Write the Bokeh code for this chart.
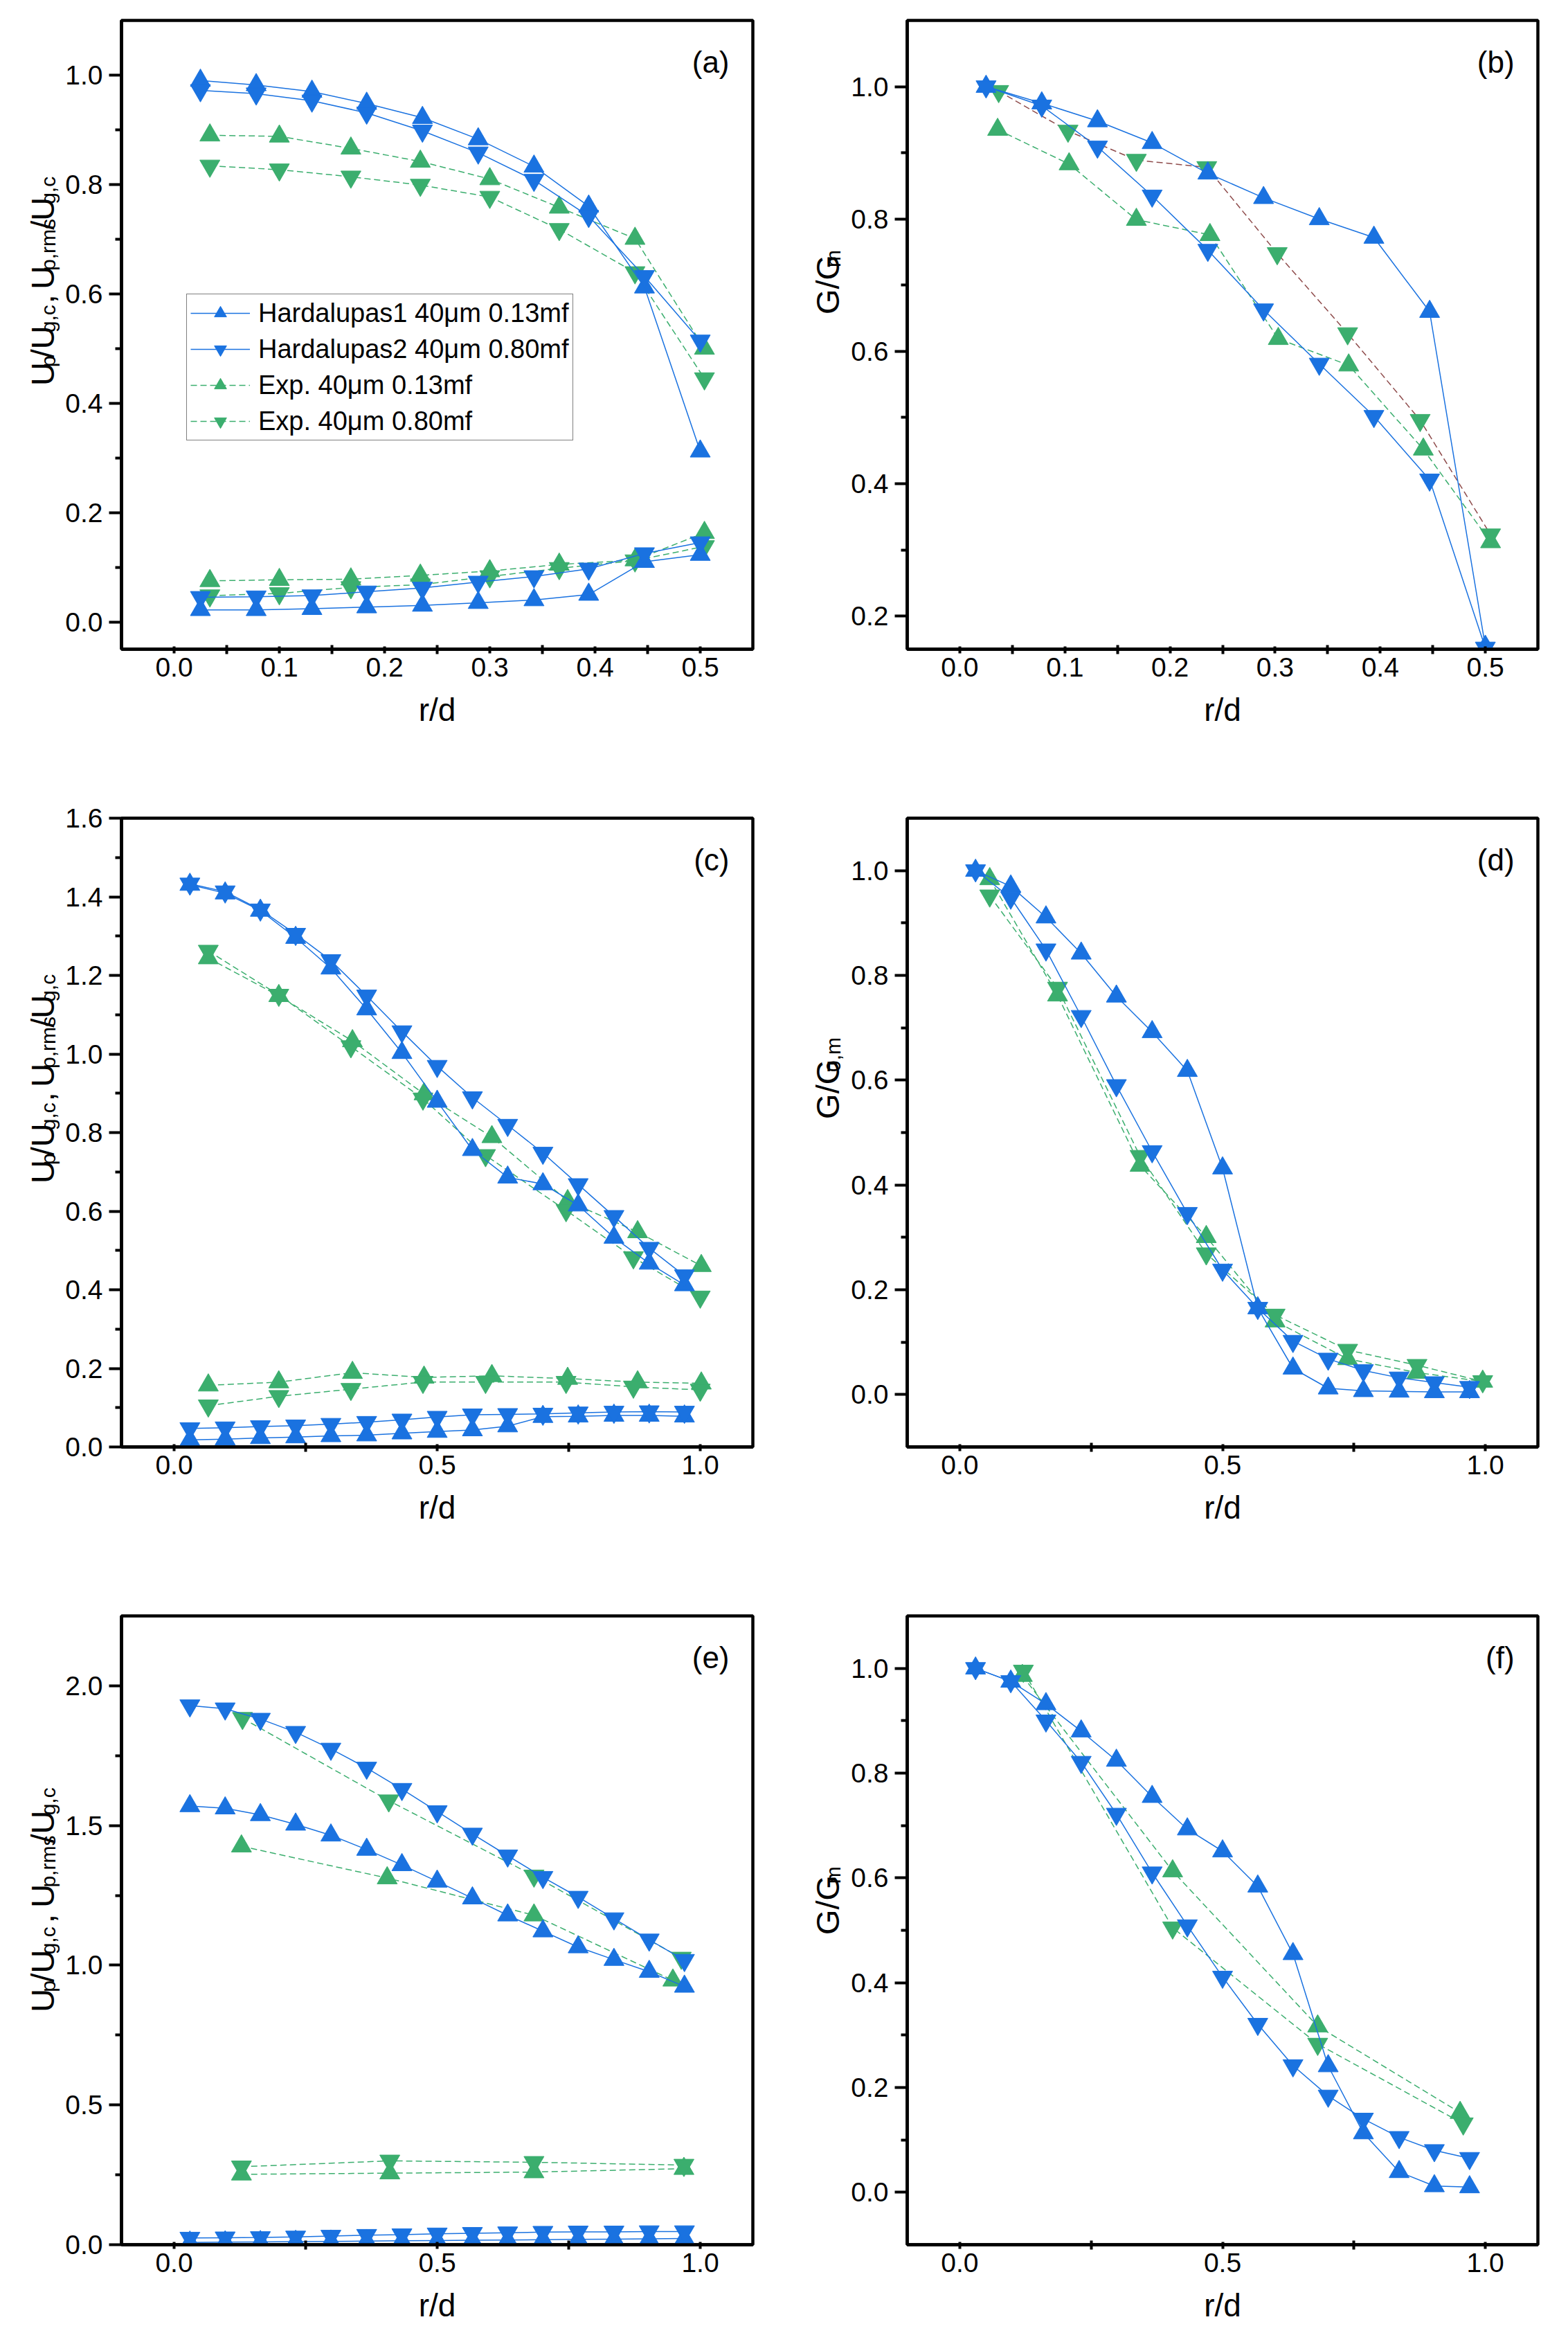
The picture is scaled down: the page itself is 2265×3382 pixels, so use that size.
import math
from bokeh.plotting import figure
from bokeh.models import Label, Legend, LegendItem, FixedTicker, Range1d, PrintfTickFormatter
from bokeh.layouts import column, row
from bokeh.embed import file_html
from bokeh.resources import INLINE

# ---------------- data ----------------
# panel (a): mean and rms particle velocity, r/d up to 0.5
a_x_h = [0.025, 0.078, 0.131, 0.183, 0.236, 0.289, 0.342, 0.394, 0.447, 0.5]
a_h1_mean = [0.990, 0.982, 0.970, 0.948, 0.922, 0.883, 0.833, 0.760, 0.612, 0.312]
a_h2_mean = [0.972, 0.966, 0.953, 0.931, 0.898, 0.858, 0.808, 0.742, 0.632, 0.514]
a_h1_rms = [0.022, 0.022, 0.024, 0.027, 0.030, 0.035, 0.040, 0.050, 0.110, 0.123]
a_h2_rms = [0.045, 0.046, 0.048, 0.055, 0.062, 0.073, 0.083, 0.097, 0.125, 0.145]
a_x_e = [0.034, 0.100, 0.168, 0.234, 0.300, 0.366, 0.438, 0.504]
a_e1_mean = [0.890, 0.888, 0.866, 0.842, 0.810, 0.758, 0.701, 0.500]
a_e2_mean = [0.834, 0.827, 0.814, 0.799, 0.777, 0.718, 0.639, 0.445]
a_e1_rms = [0.075, 0.077, 0.078, 0.085, 0.093, 0.105, 0.113, 0.163]
a_e2_rms = [0.048, 0.052, 0.063, 0.068, 0.083, 0.098, 0.112, 0.138]

# panel (b): mass flux G/Gm
b_x_h = [0.025, 0.078, 0.131, 0.183, 0.236, 0.289, 0.342, 0.394, 0.447, 0.5]
b_h1 = [1.0, 0.975, 0.948, 0.915, 0.869, 0.832, 0.800, 0.772, 0.660, 0.154]
b_h2 = [1.0, 0.971, 0.909, 0.835, 0.753, 0.663, 0.581, 0.502, 0.406, 0.152]
b_x_e1 = [0.036, 0.104, 0.168, 0.238, 0.303, 0.370, 0.441, 0.505]
b_e1 = [0.935, 0.883, 0.799, 0.776, 0.619, 0.579, 0.452, 0.312]
b_x_e2 = [0.037, 0.103, 0.168, 0.235, 0.302, 0.369, 0.438, 0.505]
b_e2 = [0.993, 0.933, 0.889, 0.878, 0.748, 0.627, 0.496, 0.323]

# panel (c)
c_x_h = [0.030, 0.097, 0.164, 0.231, 0.298, 0.366, 0.433, 0.500, 0.567, 0.634, 0.701, 0.768, 0.836, 0.903, 0.970]
c_h1_mean = [1.431, 1.409, 1.365, 1.296, 1.218, 1.114, 1.003, 0.879, 0.756, 0.686, 0.669, 0.615, 0.533, 0.467, 0.412]
c_h2_mean = [1.433, 1.413, 1.367, 1.305, 1.238, 1.148, 1.057, 0.969, 0.889, 0.819, 0.748, 0.668, 0.587, 0.506, 0.436]
c_h1_rms = [0.018, 0.020, 0.023, 0.025, 0.028, 0.030, 0.035, 0.039, 0.043, 0.053, 0.077, 0.078, 0.080, 0.080, 0.078]
c_h2_rms = [0.047, 0.049, 0.052, 0.054, 0.058, 0.063, 0.069, 0.076, 0.082, 0.083, 0.084, 0.087, 0.089, 0.090, 0.089]
c_x_e1 = [0.065, 0.199, 0.339, 0.475, 0.604, 0.748, 0.881, 1.002]
c_e1_mean = [1.244, 1.148, 1.033, 0.898, 0.789, 0.626, 0.547, 0.461]
c_e1_rms = [0.157, 0.165, 0.189, 0.177, 0.181, 0.174, 0.165, 0.162]
c_x_e2 = [0.065, 0.199, 0.336, 0.473, 0.592, 0.745, 0.873, 1.000]
c_e2_mean = [1.262, 1.150, 1.019, 0.886, 0.742, 0.602, 0.482, 0.382]
c_e2_rms = [0.105, 0.129, 0.147, 0.165, 0.165, 0.165, 0.153, 0.145]

# panel (d)
d_x_h = [0.030, 0.097, 0.164, 0.231, 0.298, 0.366, 0.433, 0.500, 0.567, 0.634, 0.701, 0.768, 0.836, 0.903, 0.970]
d_h1 = [1.0, 0.970, 0.911, 0.842, 0.760, 0.692, 0.618, 0.432, 0.165, 0.050, 0.012, 0.007, 0.006, 0.005, 0.005]
d_h2 = [1.0, 0.948, 0.849, 0.722, 0.590, 0.464, 0.346, 0.238, 0.165, 0.102, 0.068, 0.046, 0.032, 0.023, 0.014]
d_x_e = [0.057, 0.186, 0.343, 0.469, 0.600, 0.738, 0.870, 0.995]
d_e1 = [0.984, 0.762, 0.437, 0.301, 0.140, 0.068, 0.042, 0.025]
d_e2 = [0.952, 0.776, 0.455, 0.269, 0.152, 0.085, 0.056, 0.025]

# panel (e)
e_x_h = [0.030, 0.097, 0.164, 0.231, 0.298, 0.366, 0.433, 0.500, 0.567, 0.634, 0.701, 0.768, 0.836, 0.903, 0.970]
e_h1_mean = [1.570, 1.562, 1.538, 1.504, 1.465, 1.414, 1.359, 1.300, 1.240, 1.179, 1.122, 1.065, 1.020, 0.977, 0.924]
e_h2_mean = [1.929, 1.918, 1.881, 1.834, 1.774, 1.706, 1.630, 1.550, 1.470, 1.392, 1.315, 1.244, 1.167, 1.091, 1.018]
e_h1_rms = [0.008, 0.009, 0.010, 0.011, 0.012, 0.013, 0.014, 0.015, 0.016, 0.017, 0.018, 0.019, 0.020, 0.021, 0.022]
e_h2_rms = [0.024, 0.025, 0.026, 0.028, 0.031, 0.034, 0.036, 0.039, 0.041, 0.043, 0.045, 0.046, 0.046, 0.047, 0.047]
e_x_e1_mean = [0.128, 0.405, 0.684, 0.948]
e_e1_mean = [1.426, 1.312, 1.179, 0.946]
e_x_e2_mean = [0.130, 0.408, 0.684, 0.964]
e_e2_mean = [1.884, 1.589, 1.320, 1.026]
e_x_e_rms = [0.128, 0.410, 0.684, 0.969]
e_e1_rms = [0.252, 0.256, 0.260, 0.272]
e_e2_rms = [0.279, 0.300, 0.295, 0.285]

# panel (f)
f_x_h = [0.030, 0.097, 0.164, 0.231, 0.298, 0.366, 0.433, 0.500, 0.567, 0.634, 0.701, 0.768, 0.836, 0.903, 0.970]
f_h1 = [1.0, 0.975, 0.932, 0.880, 0.824, 0.755, 0.693, 0.651, 0.584, 0.455, 0.241, 0.113, 0.039, 0.012, 0.010]
f_h2 = [1.0, 0.975, 0.900, 0.821, 0.722, 0.610, 0.509, 0.411, 0.321, 0.242, 0.184, 0.140, 0.105, 0.080, 0.065]
f_x_e1 = [0.119, 0.405, 0.681, 0.952]
f_e1 = [0.986, 0.613, 0.317, 0.152]
f_x_e2 = [0.121, 0.405, 0.681, 0.958]
f_e2 = [0.995, 0.505, 0.283, 0.131]

legend_labels = ["Hardalupas1 40\u03bcm 0.13mf", "Hardalupas2 40\u03bcm 0.80mf",
                 "Exp. 40\u03bcm 0.13mf", "Exp. 40\u03bcm 0.80mf"]

# ---------------- style ----------------
BLUE = "#1A72E0"
GREEN = "#3BAE6E"
BROWN = "#8E4B4B"
FONT = "Liberation Sans"
FRAME_W = 912
FRAME_H = 908
MSIZE = 29
DASH = "9 5"

ARIAL_W = {'U': 0.722, 'p': 0.556, '/': 0.278, 'g': 0.556, ',': 0.278, 'c': 0.5, ' ': 0.278,
           'r': 0.333, 'm': 0.833, 's': 0.5, 'G': 0.778, '0': 0.556}


def make_fig(width, height, bl, br, bt, bb, xr, yr, xt, xminor, yt, yminor):
    p = figure(width=width, height=height, x_range=Range1d(*xr), y_range=Range1d(*yr),
               output_backend="svg", toolbar_location=None,
               min_border_left=bl, min_border_right=br, min_border_top=bt, min_border_bottom=bb)
    p.grid.visible = False
    p.outline_line_color = "black"
    p.outline_line_width = 4.5
    p.outline_line_alpha = 1.0
    p.background_fill_color = "white"
    p.border_fill_color = "white"
    xa = p.xaxis[0]
    ya = p.yaxis[0]
    xa.ticker = FixedTicker(ticks=xt, minor_ticks=xminor)
    ya.ticker = FixedTicker(ticks=yt, minor_ticks=yminor)
    for ax in (xa, ya):
        ax.axis_line_width = 4.5
        ax.axis_line_color = "black"
        ax.major_tick_line_width = 4
        ax.minor_tick_line_width = 4
        ax.major_tick_line_color = "black"
        ax.minor_tick_line_color = "black"
        ax.major_label_text_font = FONT
        ax.major_label_text_font_size = "39px"
        ax.major_label_text_color = "black"
        ax.formatter = PrintfTickFormatter(format="%.1f")
    ya.major_tick_out = 18
    ya.major_tick_in = 0
    ya.minor_tick_out = 9
    ya.minor_tick_in = 0
    ya.major_label_standoff = 9
    xa.major_tick_out = 6
    xa.major_tick_in = 4
    xa.minor_tick_out = 7
    xa.minor_tick_in = 6
    xa.major_label_standoff = 5
    xa.axis_label = "r/d"
    xa.axis_label_text_font = FONT
    xa.axis_label_text_font_size = "46px"
    xa.axis_label_text_font_style = "normal"
    xa.axis_label_text_color = "black"
    xa.axis_label_standoff = 19
    return p


def label_fig(width, height, pieces, base_x, center_y, main=47, sub=30, drop=8):
    """Narrow figure holding a rotated y-axis title with subscripts (pixel data units)."""
    p = figure(width=width, height=height, x_range=Range1d(0, width), y_range=Range1d(0, height),
               output_backend="svg", toolbar_location=None, min_border=0, title=None,
               x_axis_location=None, y_axis_location=None)
    p.grid.visible = False
    p.outline_line_color = None
    p.background_fill_color = "white"
    p.border_fill_color = "white"
    lens = [sum(ARIAL_W[c] for c in t) * (sub if s else main) for t, s in pieces]
    pos = center_y - sum(lens) / 2
    for (t, s), L in zip(pieces, lens):
        if t.strip():
            p.add_layout(Label(x=base_x + (drop if s else 0), y=pos, text=t,
                               angle=math.pi / 2, text_align="left", text_baseline="alphabetic",
                               text_font=FONT, text_font_size=f"{sub if s else main}px",
                               text_color="black"))
        pos += L
    return p


def series(p, x, y, color, marker, dash, lw=1.5, line_color=None):
    r1 = p.line(x, y, line_color=line_color or color, line_width=lw, line_dash=dash)
    r2 = p.scatter(x, y, marker=marker, size=MSIZE, fill_color=color, line_color=color)
    return [r1, r2]


def panel_tag(p, tag, xr, yr):
    ppx = FRAME_W / (xr[1] - xr[0])
    ppy = FRAME_H / (yr[1] - yr[0])
    p.add_layout(Label(x=xr[1] - 34 / ppx, y=yr[1] - 60 / ppy, text=tag, text_align="right",
                       text_baseline="middle", text_font=FONT, text_font_size="44px",
                       text_color="black"))


U_LABEL = [("U", 0), ("p", 1), ("/U", 0), ("g,c", 1), (" ", 0), (",", 0), (" ", 0),
           ("U", 0), ("p,rms", 1), ("/U", 0), ("g,c", 1)]
GM_LABEL = [("G/G", 0), ("m", 1)]
G0M_LABEL = [("G/G", 0), ("0,m", 1)]

# layout geometry (pixels)
LAB_L, LAB_R = 90, 96          # widths of the y-title strips
PW_L, PW_R = 1040, 1023        # panel figure widths
BL_L, BR_L = 85, 43
BL_R, BR_R = 83, 28
H12, H3 = 1152, 1062
BT = 29
BB12 = H12 - BT - FRAME_H
BB3 = H3 - BT - FRAME_H
BASE_L, BASE_R = 61, 65        # baseline x of y-titles inside strips

xr_s = (-0.05, 0.55)
xt_s = [0.0, 0.1, 0.2, 0.3, 0.4, 0.5]
xm_s = [0.05, 0.15, 0.25, 0.35, 0.45]
xr_l = (-0.1, 1.1)
xt_l = [0.0, 0.5, 1.0]
xm_l = [0.25, 0.75]

# ---- (a)
yr = (-0.05, 1.1)
pa = make_fig(PW_L, H12, BL_L, BR_L, BT, BB12, xr_s, yr, xt_s, xm_s,
              [0.0, 0.2, 0.4, 0.6, 0.8, 1.0], [0.1, 0.3, 0.5, 0.7, 0.9])
e1m = series(pa, a_x_e, a_e1_mean, GREEN, "triangle", DASH)
series(pa, a_x_e, a_e1_rms, GREEN, "triangle", DASH)
e2m = series(pa, a_x_e, a_e2_mean, GREEN, "inverted_triangle", DASH)
series(pa, a_x_e, a_e2_rms, GREEN, "inverted_triangle", DASH)
h1m = series(pa, a_x_h, a_h1_mean, BLUE, "triangle", "solid")
series(pa, a_x_h, a_h1_rms, BLUE, "triangle", "solid")
h2m = series(pa, a_x_h, a_h2_mean, BLUE, "inverted_triangle", "solid")
series(pa, a_x_h, a_h2_rms, BLUE, "inverted_triangle", "solid")
panel_tag(pa, "(a)", xr_s, yr)
legend = Legend(items=[LegendItem(label=legend_labels[0], renderers=h1m),
                       LegendItem(label=legend_labels[1], renderers=h2m),
                       LegendItem(label=legend_labels[2], renderers=e1m),
                       LegendItem(label=legend_labels[3], renderers=e2m)],
                location=(94, 301))
legend.label_text_font = FONT
legend.label_text_font_size = "38px"
legend.label_text_color = "black"
legend.border_line_color = "black"
legend.border_line_width = 1.5
legend.background_fill_color = "white"
legend.background_fill_alpha = 1.0
legend.glyph_width = 86
legend.glyph_height = 44
legend.label_height = 44
legend.label_standoff = 12
legend.spacing = 8
legend.padding = 5
legend.margin = 0
pa.add_layout(legend)
la = label_fig(LAB_L, H12, U_LABEL, BASE_L, BB12 + FRAME_H / 2)

# ---- (b)
yr = (0.15, 1.1)
pb = make_fig(PW_R, H12, BL_R, BR_R, BT, BB12, xr_s, yr, xt_s, xm_s,
              [0.2, 0.4, 0.6, 0.8, 1.0], [0.3, 0.5, 0.7, 0.9])
series(pb, b_x_e1, b_e1, GREEN, "triangle", DASH)
series(pb, b_x_e2, b_e2, GREEN, "inverted_triangle", DASH, line_color=BROWN)
series(pb, b_x_h, b_h1, BLUE, "triangle", "solid")
series(pb, b_x_h, b_h2, BLUE, "inverted_triangle", "solid")
panel_tag(pb, "(b)", xr_s, yr)
lb = label_fig(LAB_R, H12, GM_LABEL, BASE_R, BB12 + FRAME_H / 2)

# ---- (c)
yr = (0.0, 1.6)
pc = make_fig(PW_L, H12, BL_L, BR_L, BT, BB12, xr_l, yr, xt_l, xm_l,
              [0.0, 0.2, 0.4, 0.6, 0.8, 1.0, 1.2, 1.4, 1.6], [0.1, 0.3, 0.5, 0.7, 0.9, 1.1, 1.3, 1.5])
series(pc, c_x_e1, c_e1_mean, GREEN, "triangle", DASH)
series(pc, c_x_e1, c_e1_rms, GREEN, "triangle", DASH)
series(pc, c_x_e2, c_e2_mean, GREEN, "inverted_triangle", DASH)
series(pc, c_x_e2, c_e2_rms, GREEN, "inverted_triangle", DASH)
series(pc, c_x_h, c_h1_mean, BLUE, "triangle", "solid")
series(pc, c_x_h, c_h1_rms, BLUE, "triangle", "solid")
series(pc, c_x_h, c_h2_mean, BLUE, "inverted_triangle", "solid")
series(pc, c_x_h, c_h2_rms, BLUE, "inverted_triangle", "solid")
panel_tag(pc, "(c)", xr_l, yr)
lc = label_fig(LAB_L, H12, U_LABEL, BASE_L, BB12 + FRAME_H / 2)

# ---- (d)
yr = (-0.1, 1.1)
pd_ = make_fig(PW_R, H12, BL_R, BR_R, BT, BB12, xr_l, yr, xt_l, xm_l,
               [0.0, 0.2, 0.4, 0.6, 0.8, 1.0], [0.1, 0.3, 0.5, 0.7, 0.9])
series(pd_, d_x_e, d_e1, GREEN, "triangle", DASH)
series(pd_, d_x_e, d_e2, GREEN, "inverted_triangle", DASH)
series(pd_, d_x_h, d_h1, BLUE, "triangle", "solid")
series(pd_, d_x_h, d_h2, BLUE, "inverted_triangle", "solid")
panel_tag(pd_, "(d)", xr_l, yr)
ld = label_fig(LAB_R, H12, G0M_LABEL, BASE_R, BB12 + FRAME_H / 2)

# ---- (e)
yr = (0.0, 2.25)
pe = make_fig(PW_L, H3, BL_L, BR_L, BT, BB3, xr_l, yr, xt_l, xm_l,
              [0.0, 0.5, 1.0, 1.5, 2.0], [0.25, 0.75, 1.25, 1.75])
series(pe, e_x_e1_mean, e_e1_mean, GREEN, "triangle", DASH)
series(pe, e_x_e_rms, e_e1_rms, GREEN, "triangle", DASH)
series(pe, e_x_e2_mean, e_e2_mean, GREEN, "inverted_triangle", DASH)
series(pe, e_x_e_rms, e_e2_rms, GREEN, "inverted_triangle", DASH)
series(pe, e_x_h, e_h1_mean, BLUE, "triangle", "solid")
series(pe, e_x_h, e_h1_rms, BLUE, "triangle", "solid")
series(pe, e_x_h, e_h2_mean, BLUE, "inverted_triangle", "solid")
series(pe, e_x_h, e_h2_rms, BLUE, "inverted_triangle", "solid")
panel_tag(pe, "(e)", xr_l, yr)
le = label_fig(LAB_L, H3, U_LABEL, BASE_L, BB3 + FRAME_H / 2)

# ---- (f)
yr = (-0.1, 1.1)
pf = make_fig(PW_R, H3, BL_R, BR_R, BT, BB3, xr_l, yr, xt_l, xm_l,
              [0.0, 0.2, 0.4, 0.6, 0.8, 1.0], [0.1, 0.3, 0.5, 0.7, 0.9])
series(pf, f_x_e1, f_e1, GREEN, "triangle", DASH)
series(pf, f_x_e2, f_e2, GREEN, "inverted_triangle", DASH)
series(pf, f_x_h, f_h1, BLUE, "triangle", "solid")
series(pf, f_x_h, f_h2, BLUE, "inverted_triangle", "solid")
panel_tag(pf, "(f)", xr_l, yr)
lf = label_fig(LAB_R, H3, GM_LABEL, BASE_R, BB3 + FRAME_H / 2)

layout = column(row(la, pa, lb, pb), row(lc, pc, ld, pd_), row(le, pe, lf, pf))
open("out.html", "w").write(file_html(layout, INLINE))
